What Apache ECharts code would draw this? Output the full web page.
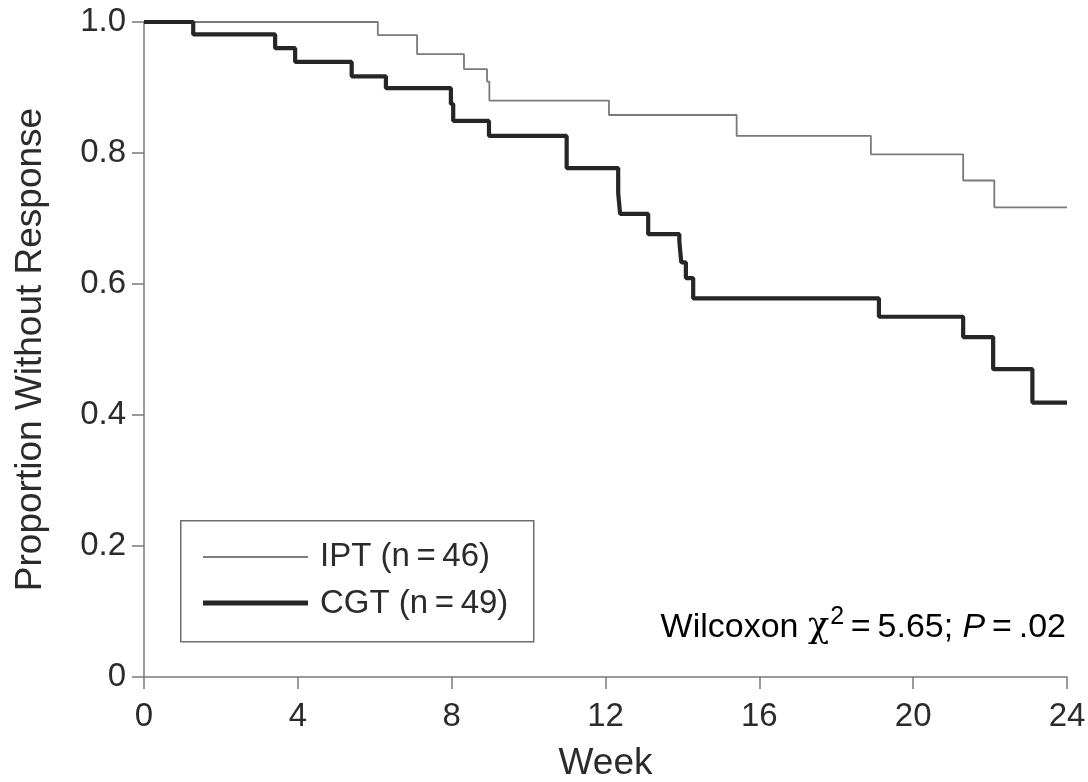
<!DOCTYPE html>
<html>
<head>
<meta charset="utf-8">
<title>Proportion Without Response</title>
<script src="https://cdn.jsdelivr.net/npm/echarts@6/dist/echarts.min.js"></script>
<style>
  html, body { margin: 0; padding: 0; background: #fff; }
  #chart { width: 1088px; height: 782px; }
</style>
</head>
<body>
<div id="chart"></div>
<script>
'use strict';
// Kaplan-Meier steps (week, proportion still without response)
var iptWeeks  = [0, 6.08, 7.1, 8.32, 8.92, 8.98, 12.09, 15.41, 18.9, 21.3, 22.11, 24];
var iptValues = [1.0, 0.980, 0.951, 0.928, 0.909, 0.880, 0.858, 0.826, 0.798, 0.758, 0.717, 0.717];

var cgtWeeks  = [0, 1.28, 3.41, 3.93, 5.4, 6.29, 7.98, 8.04, 8.97, 10.99, 12.33, 12.38,
                 13.11, 13.92, 13.97, 14.09, 14.28, 19.11, 21.3, 22.08, 23.1, 24];
var cgtValues = [1.0, 0.981, 0.960, 0.939, 0.917, 0.899, 0.875, 0.849, 0.826, 0.777, 0.739, 0.707,
                 0.676, 0.665, 0.633, 0.609, 0.578, 0.550, 0.519, 0.470, 0.419, 0.419];

var seriesNames = ['IPT (n\u2009=\u200946)', 'CGT (n\u2009=\u200949)'];
var statText = 'Wilcoxon';

function pairs(xs, ys) {
    var out = [];
    for (var i = 0; i < xs.length; i++) out.push([xs[i], ys[i]]);
    return out;
}

var FONT = '"Liberation Sans", Arial, sans-serif';
var axisGray = '#7a7a7a';
var textColor = '#2b2b2b';

var chart = echarts.init(document.getElementById('chart'));

var option = {
    animation: false,
    backgroundColor: '#fff',
    grid: { left: 144, right: 21, top: 22, bottom: 105, containLabel: false, outerBoundsMode: 'none' },
    xAxis: {
        type: 'value',
        min: 0, max: 24, interval: 4,
        name: 'Week',
        nameLocation: 'middle',
        nameGap: 68,
        nameTextStyle: { fontFamily: FONT, fontSize: 37, color: textColor },
        axisLine: { onZero: false, lineStyle: { color: axisGray, width: 1.5 } },
        axisTick: { inside: false, length: 12, lineStyle: { color: axisGray, width: 1.5 } },
        axisLabel: { fontFamily: FONT, fontSize: 33, color: textColor, margin: 23 },
        splitLine: { show: false }
    },
    yAxis: {
        type: 'value',
        min: 0, max: 1, interval: 0.2,
        name: 'Proportion Without Response',
        nameLocation: 'middle',
        nameGap: 95,
        nameTextStyle: { fontFamily: FONT, fontSize: 37, color: textColor },
        axisLine: { show: true, lineStyle: { color: axisGray, width: 1.5 } },
        axisTick: { show: true, inside: false, length: 12, lineStyle: { color: axisGray, width: 1.5 } },
        axisLabel: {
            fontFamily: FONT, fontSize: 33, color: textColor, margin: 18,
            formatter: function(v) { return v === 0 ? '0' : v.toFixed(1); }
        },
        splitLine: { show: false }
    },
    series: [
        {
            name: seriesNames[0],
            type: 'line',
            step: 'end',
            symbol: 'none',
            z: 3,
            lineStyle: { color: '#7a7a7a', width: 1.8 },
            data: pairs(iptWeeks, iptValues)
        },
        {
            name: seriesNames[1],
            type: 'line',
            step: 'end',
            symbol: 'none',
            z: 4,
            lineStyle: { color: '#262626', width: 4.2 },
            data: pairs(cgtWeeks, cgtValues)
        }
    ],
    graphic: [
        // legend box
        {
            type: 'rect', left: 180, top: 520, z: 10,
            shape: { width: 353, height: 121 },
            style: { fill: '#fff', stroke: '#6e6e6e', lineWidth: 1.5 }
        },
        {
            type: 'line', z: 11,
            shape: { x1: 203, y1: 557, x2: 308, y2: 557 },
            style: { stroke: '#555', lineWidth: 1.5 }
        },
        {
            type: 'line', z: 11,
            shape: { x1: 203, y1: 603, x2: 308, y2: 603 },
            style: { stroke: '#262626', lineWidth: 5 }
        },
        {
            type: 'text', left: 320, top: 540, z: 11,
            style: { text: seriesNames[0], font: '33px ' + FONT, fill: textColor }
        },
        {
            type: 'text', left: 320, top: 587, z: 11,
            style: { text: seriesNames[1], font: '33px ' + FONT, fill: textColor }
        },
        // test statistic
        {
            type: 'text', right: 22, top: 605, z: 11,
            style: {
                text: '{a|' + statText + ' }{chi|\u03c7}{sup|2}{a|\u2009=\u20095.65; }{it|P}{a|\u2009=\u2009.02}',
                rich: {
                    a:   { fontFamily: FONT, fontSize: 34, color: textColor, verticalAlign: 'bottom', lineHeight: 40 },
                    chi: { fontFamily: '"DejaVu Serif", serif', fontSize: 35, color: textColor, verticalAlign: 'bottom', lineHeight: 40 },
                    sup: { fontFamily: FONT, fontSize: 25, color: textColor, verticalAlign: 'top', lineHeight: 40, padding: [0, 0, 16, 1] },
                    it:  { fontFamily: FONT, fontSize: 34, fontStyle: 'italic', color: textColor, verticalAlign: 'bottom', lineHeight: 40 }
                }
            }
        }
    ]
};

chart.setOption(option);
window.onresize = function() { chart.resize(); };
</script>
</body>
</html>
